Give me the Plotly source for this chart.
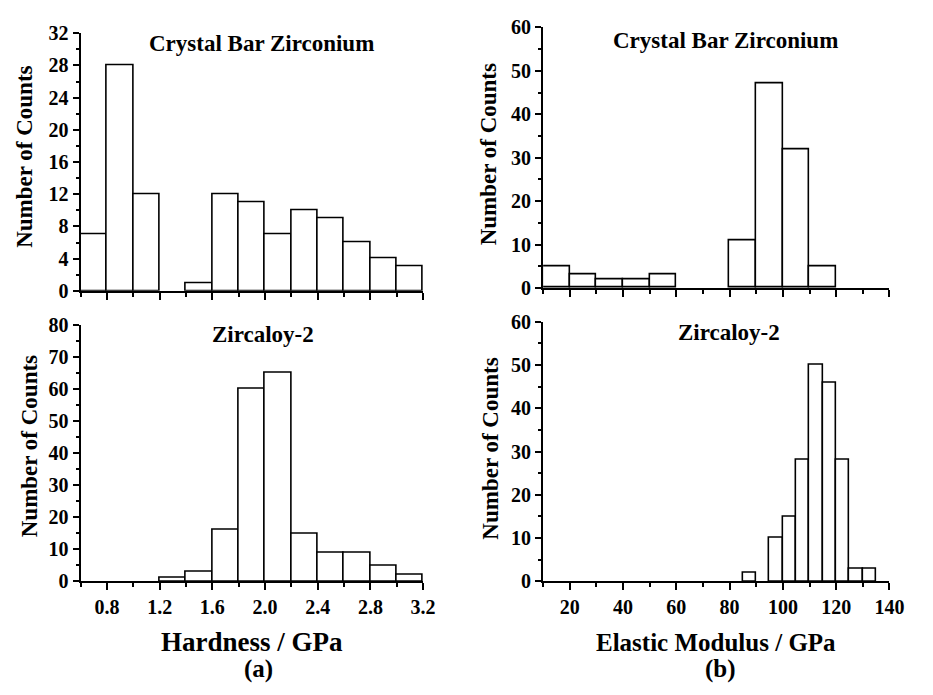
import plotly.graph_objects as go

# ---------------- data ----------------
hard_cbz_left = [0.6, 0.8, 1.0, 1.2, 1.4, 1.6, 1.8, 2.0, 2.2, 2.4, 2.6, 2.8, 3.0]
hard_cbz_counts = [7, 28, 12, 0, 1, 12, 11, 7, 10, 9, 6, 4, 3]

hard_zy2_left = [0.6, 0.8, 1.0, 1.2, 1.4, 1.6, 1.8, 2.0, 2.2, 2.4, 2.6, 2.8, 3.0]
hard_zy2_counts = [0, 0, 0, 1, 3, 16, 60, 65, 15, 9, 9, 5, 2]

mod_cbz_left = [10, 20, 30, 40, 50, 60, 70, 80, 90, 100, 110, 120, 130]
mod_cbz_counts = [5, 3, 2, 2, 3, 0, 0, 11, 47, 32, 5, 0, 0]

mod_zy2_left = [85, 90, 95, 100, 105, 110, 115, 120, 125, 130]
mod_zy2_counts = [2, 0, 10, 15, 28, 50, 46, 28, 3, 3]

hard_bin_width = 0.2
cbz_mod_bin_width = 10
zy2_mod_bin_width = 5

panel_titles = ["Crystal Bar Zirconium", "Crystal Bar Zirconium", "Zircaloy-2", "Zircaloy-2"]
y_title = "Number of Counts"
x_title_a = "Hardness / GPa"
x_title_b = "Elastic Modulus / GPa"

# ---------------- figure ----------------
W, H = 933, 695
FONT = "Liberation Serif"

def px_x(p):
    return p / W

def px_y(p):
    return 1 - p / H

fig = go.Figure()

def add_hist(left, counts, width, xa, ya):
    fig.add_trace(go.Bar(
        x=left, y=counts, width=width, offset=0,
        marker=dict(color="white",
                    line=dict(color="black", width=[1.6 if c > 0 else 0 for c in counts])),
        xaxis=xa, yaxis=ya, showlegend=False, hoverinfo="x+y",
    ))

add_hist(hard_cbz_left, hard_cbz_counts, hard_bin_width, "x", "y")
add_hist(mod_cbz_left, mod_cbz_counts, cbz_mod_bin_width, "x2", "y2")
add_hist(hard_zy2_left, hard_zy2_counts, hard_bin_width, "x3", "y3")
add_hist(mod_zy2_left, mod_zy2_counts, zy2_mod_bin_width, "x4", "y4")

tickfont = dict(family=FONT, size=20, color="black", weight="bold")

def xaxis(domain, rng, tick0, dtick, mdtick, anchor, labels):
    return dict(
        domain=domain, range=rng, anchor=anchor,
        showline=True, linecolor="black", linewidth=2.2,
        ticks="outside", ticklen=7, tickwidth=2, tickcolor="black",
        tick0=tick0, dtick=dtick, tickformat=".1f" if dtick < 1 else "d",
        minor=dict(ticks="outside", ticklen=4, tickwidth=2, tickcolor="black", dtick=mdtick, tick0=tick0, showgrid=False),
        showgrid=False, zeroline=False, showticklabels=labels, tickfont=tickfont,
        fixedrange=True,
    )

def yaxis(domain, rng, dtick, mdtick, anchor):
    return dict(
        domain=domain, range=rng, anchor=anchor,
        showline=True, linecolor="black", linewidth=2.2,
        ticks="outside", ticklen=6, tickwidth=2, tickcolor="black",
        tick0=0, dtick=dtick,
        minor=dict(ticks="outside", ticklen=3, tickwidth=2, tickcolor="black", dtick=mdtick, tick0=0, showgrid=False),
        showgrid=False, zeroline=False, tickfont=tickfont, fixedrange=True,
    )

left_dom = [px_x(82), px_x(430)]
right_dom = [px_x(552), px_x(904)]

fig.update_layout(
    width=W, height=H,
    margin=dict(l=0, r=0, t=0, b=0),
    paper_bgcolor="white", plot_bgcolor="white",
    bargap=0,
    xaxis=xaxis(left_dom, [0.6, 3.2], 0.8, 0.4, 0.2, "y", False),
    yaxis=yaxis([px_y(289), px_y(23)], [0, 32], 4, 2, "x"),
    xaxis2=xaxis(right_dom, [10, 140], 0, 20, 10, "y2", False),
    yaxis2=yaxis([px_y(286), px_y(17)], [0, 60], 10, 5, "x2"),
    xaxis3=xaxis(left_dom, [0.6, 3.2], 0.8, 0.4, 0.2, "y3", True),
    yaxis3=yaxis([px_y(589), px_y(324)], [0, 80], 10, 5, "x3"),
    xaxis4=xaxis(right_dom, [10, 140], 0, 20, 10, "y4", True),
    yaxis4=yaxis([px_y(589), px_y(321)], [0, 60], 10, 5, "x4"),
)

def ann(text, x, y, size, angle=0):
    fig.add_annotation(
        text=text, x=px_x(x), y=px_y(y), xref="paper", yref="paper",
        xanchor="center", yanchor="middle", showarrow=False, textangle=angle,
        font=dict(family=FONT, size=size, color="black", weight="bold"),
    )

# panel titles
ann(panel_titles[0], 266, 34, 23)
ann(panel_titles[1], 737, 30, 23)
ann(panel_titles[2], 267, 334, 23)
ann(panel_titles[3], 741, 332, 23)

# y titles
ann(y_title, 25, 151, 23, -90)
ann(y_title, 496, 148, 23, -90)
ann(y_title, 30, 450, 23, -90)
ann(y_title, 499, 452, 23, -90)

# x titles and panel labels
ann(x_title_a, 256, 652, 27)
ann("(a)", 263, 679, 25)
ann(x_title_b, 728, 652, 25)
ann("(b)", 732, 679, 25)

fig.write_html("out.html")
